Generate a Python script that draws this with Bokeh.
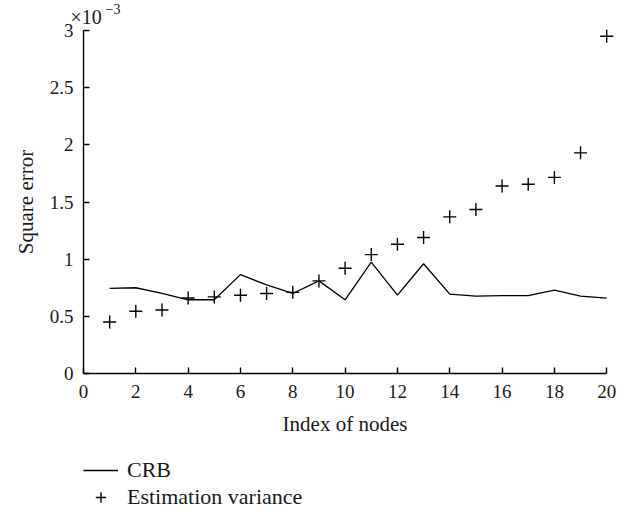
from bokeh.plotting import figure
from bokeh.models import Legend, LegendItem, Label, Range1d, FixedTicker
from bokeh.embed import file_html
from bokeh.resources import INLINE

# Data (square error in units of 1e-3)
nodes = list(range(1, 21))
crb = [0.745, 0.75, 0.70, 0.645, 0.645, 0.865, 0.775, 0.70, 0.81, 0.645,
       0.974, 0.685, 0.96, 0.694, 0.676, 0.682, 0.682, 0.729, 0.676, 0.659]
est_var = [0.45, 0.545, 0.555, 0.66, 0.67, 0.685, 0.70, 0.71, 0.81, 0.92,
           1.04, 1.13, 1.19, 1.37, 1.435, 1.64, 1.655, 1.715, 1.93, 2.95]
x_ticks = [0, 2, 4, 6, 8, 10, 12, 14, 16, 18, 20]
y_ticks = [0, 0.5, 1, 1.5, 2, 2.5, 3]

FONT = "Liberation Serif"
W, H = 640, 510
X0, Y0 = 83, 373          # pixel position of the axes origin
PX_X, PX_Y = 26.16, 114.33  # pixels per data unit

p = figure(width=W, height=H, output_backend="svg", toolbar_location=None,
           x_range=Range1d(-X0 / PX_X, (W - X0) / PX_X),
           y_range=Range1d(-(H - Y0) / PX_Y, Y0 / PX_Y),
           min_border_left=0, min_border_right=0, min_border_top=0,
           min_border_bottom=0)
p.outline_line_color = None
p.grid.visible = False
p.background_fill_color = "white"
p.border_fill_color = "white"

r_line = p.line(nodes, crb, line_color="black", line_width=1.3)
r_pts = p.scatter(nodes, est_var, marker="cross", size=13, line_color="black",
                  line_width=1.4)

for ax in (p.xaxis[0], p.yaxis[0]):
    ax.fixed_location = 0
    ax.axis_line_color = "black"
    ax.axis_line_width = 1.4
    ax.major_tick_line_color = "black"
    ax.major_tick_line_width = 1.4
    ax.major_tick_in = 6
    ax.major_tick_out = 0
    ax.minor_tick_line_color = None
    ax.major_label_text_font = FONT
    ax.major_label_text_font_size = "19px"
    ax.major_label_text_color = "#1a1a1a"
    ax.axis_label_text_font = FONT
    ax.axis_label_text_font_size = "21px"
    ax.axis_label_text_font_style = "normal"
    ax.axis_label_text_color = "#1a1a1a"

p.xaxis.ticker = FixedTicker(ticks=x_ticks)
p.yaxis.ticker = FixedTicker(ticks=y_ticks)
p.xaxis.bounds = (0, 20)
p.yaxis.bounds = (0, 3)
p.yaxis.major_label_overrides = {0: "0", 0.5: "0.5", 1: "1", 1.5: "1.5",
                                 2: "2", 2.5: "2.5", 3: "3"}
p.xaxis.axis_label = "Index of nodes"
p.yaxis.axis_label = "Square error"
p.xaxis.major_label_standoff = 11
p.xaxis.axis_label_standoff = 11
p.yaxis.major_label_standoff = 10
p.yaxis.axis_label_standoff = 9

# Scale factor label (×10^-3)
p.add_layout(Label(x=0, y=3, x_offset=-13, y_offset=14, text="×10",
                   text_baseline="alphabetic",
                   text_font=FONT, text_font_size="20px", text_color="#1a1a1a"))
p.add_layout(Label(x=0, y=3, x_offset=22, y_offset=22, text="−3",
                   text_baseline="alphabetic",
                   text_font=FONT, text_font_size="14px", text_color="#1a1a1a"))

legend = Legend(items=[LegendItem(label="CRB", renderers=[r_line]),
                       LegendItem(label="Estimation variance", renderers=[r_pts])],
                location=(X0, 0), orientation="vertical",
                border_line_color=None, background_fill_alpha=0,
                label_text_font=FONT, label_text_font_size="22px",
                label_text_color="#1a1a1a",
                glyph_width=35, glyph_height=26, label_height=16,
                spacing=1, padding=0, margin=0, label_standoff=9)
p.add_layout(legend, "center")

open("out.html", "w").write(file_html(p, INLINE))
